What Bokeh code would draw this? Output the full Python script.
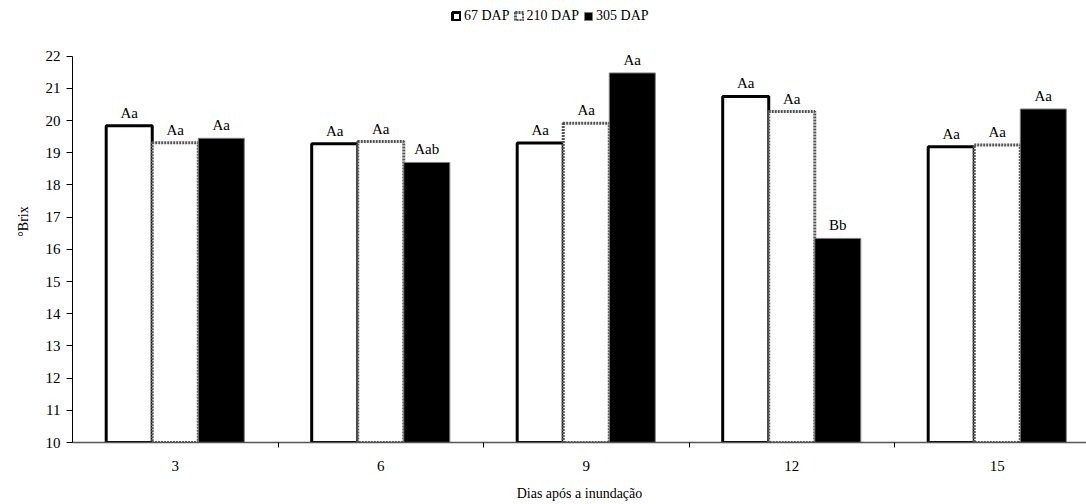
from bokeh.plotting import figure
from bokeh.models import FixedTicker, Legend, LegendItem, ColumnDataSource, Range1d
from bokeh.core.properties import value
from bokeh.embed import file_html
from bokeh.resources import INLINE

categories = ["3", "6", "9", "12", "15"]
series_names = ["67 DAP", "210 DAP", "305 DAP"]
brix_67 = [19.84, 19.28, 19.30, 20.75, 19.19]
brix_210 = [19.31, 19.35, 19.92, 20.28, 19.24]
brix_305 = [19.45, 18.70, 21.48, 16.34, 20.36]
labels_67 = ["Aa", "Aa", "Aa", "Aa", "Aa"]
labels_210 = ["Aa", "Aa", "Aa", "Aa", "Aa"]
labels_305 = ["Aa", "Aab", "Aa", "Bb", "Aa"]
y_ticks = list(range(10, 23))

FONT = "Liberation Serif"
W, H = 1086, 504
left, bottom = 72, 62
frame_w = W - left
frame_h = H - bottom
cat_w = 205.5
x_end = frame_w / cat_w
px_per_unit = (442 - 55.7) / 12.0
y_end = 10 + frame_h / px_per_unit

p = figure(width=W, height=H, output_backend="svg", toolbar_location=None,
           x_range=Range1d(0, x_end), y_range=Range1d(10, y_end),
           min_border_left=left, min_border_top=0, min_border_bottom=bottom,
           min_border_right=0)
p.grid.visible = False
p.outline_line_color = None
p.background_fill_color = "white"
p.border_fill_color = "white"

centers = [i + 0.5 for i in range(len(categories))]
bw = 0.224
offsets = [-bw, 0.0, bw]
series = [brix_67, brix_210, brix_305]
labels = [labels_67, labels_210, labels_305]
styles = [
    dict(fill_color="white", line_color="black", line_width=3),
    dict(fill_color="white", line_color="#555555", line_width=3, line_dash="2 1"),
    dict(fill_color="black", line_color="#808080", line_width=1),
]

renderers = []
for s, off, st, lab in zip(series, offsets, styles, labels):
    xs = [c + off for c in centers]
    src = ColumnDataSource(dict(x=xs, top=s, lab=lab))
    r = p.vbar(x="x", top="top", bottom=10, width=bw, source=src, **st)
    renderers.append(r)
    p.text(x="x", y="top", text="lab", source=src, text_align="center",
           text_baseline="bottom", y_offset=-5, text_font=value(FONT),
           text_font_size="15px", text_color="black")

legend = Legend(items=[LegendItem(label=n, renderers=[r]) for n, r in zip(series_names, renderers)],
                orientation="horizontal", location=(379, 418),
                border_line_color=None, background_fill_alpha=0,
                padding=0, margin=0, spacing=4, glyph_width=10, glyph_height=10,
                label_standoff=3, label_text_font=FONT, label_text_font_size="14px",
                label_text_color="black", label_height=14)
p.add_layout(legend, "center")

# x axis
xa = p.xaxis[0]
xa.ticker = FixedTicker(ticks=centers, minor_ticks=[1, 2, 3, 4])
xa.major_label_overrides = {c: cat for c, cat in zip(centers, categories)}
xa.major_tick_out = 0
xa.major_tick_in = 0
xa.minor_tick_out = 5
xa.minor_tick_in = 0
xa.minor_tick_line_color = "black"
xa.axis_line_color = "#555555"
xa.axis_line_width = 1.5
xa.major_label_standoff = 13
xa.major_label_text_font = FONT
xa.major_label_text_font_size = "15px"
xa.major_label_text_color = "black"
xa.axis_label = "Dias após a inundação"
xa.axis_label_text_font = FONT
xa.axis_label_text_font_size = "14px"
xa.axis_label_text_font_style = "normal"
xa.axis_label_text_color = "black"
xa.axis_label_standoff = 12

ya = p.yaxis[0]
ya.ticker = FixedTicker(ticks=y_ticks, minor_ticks=[])
ya.bounds = (10, 22)
ya.major_tick_out = 6
ya.major_tick_in = 0
ya.major_tick_line_color = "black"
ya.axis_line_color = "black"
ya.major_label_standoff = 6
ya.major_label_text_font = FONT
ya.major_label_text_font_size = "15px"
ya.major_label_text_color = "black"
ya.axis_label = "°Brix"
ya.axis_label_text_font = FONT
ya.axis_label_text_font_size = "14px"
ya.axis_label_text_font_style = "normal"
ya.axis_label_text_color = "black"
ya.axis_label_standoff = 12

open("out.html", "w").write(file_html(p, INLINE))
